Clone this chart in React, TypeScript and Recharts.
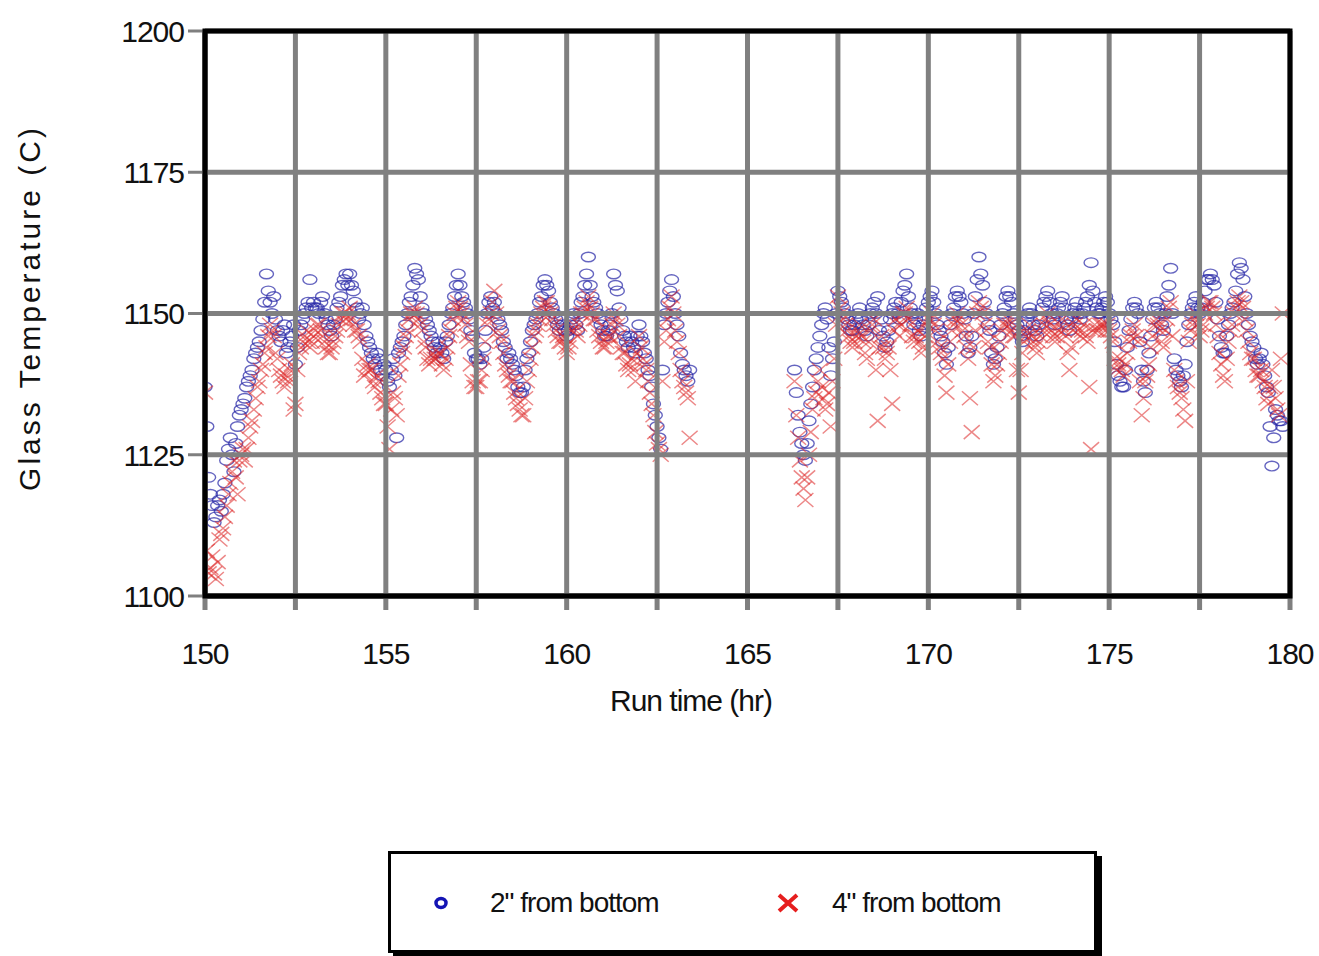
import {
  ScatterChart,
  Scatter,
  XAxis,
  YAxis,
  CartesianGrid,
  Legend,
  ReferenceArea,
} from "recharts";

// run time (hr) and glass temperature (C), first run segment
const hoursA = [
  150.0, 150.1, 150.2, 150.3, 150.4, 150.5, 150.6, 150.7, 150.8, 150.9,
  151.0, 151.1, 151.2, 151.3, 151.4, 151.5, 151.6, 151.7, 151.8, 151.9,
  152.0, 152.1, 152.2, 152.3, 152.4, 152.5, 152.6, 152.7, 152.8, 152.9,
  153.0, 153.1, 153.2, 153.3, 153.4, 153.5, 153.6, 153.7, 153.8, 153.9,
  154.0, 154.1, 154.2, 154.3, 154.4, 154.5, 154.6, 154.7, 154.8, 154.9,
  155.0, 155.1, 155.2, 155.3, 155.4, 155.5, 155.6, 155.7, 155.8, 155.9,
  156.0, 156.1, 156.2, 156.3, 156.4, 156.5, 156.6, 156.7, 156.8, 156.9,
  157.0, 157.1, 157.2, 157.3, 157.4, 157.5, 157.6, 157.7, 157.8, 157.9,
  158.0, 158.1, 158.2, 158.3, 158.4, 158.5, 158.6, 158.7, 158.8, 158.9,
  159.0, 159.1, 159.2, 159.3, 159.4, 159.5, 159.6, 159.7, 159.8, 159.9,
  160.0, 160.1, 160.2, 160.3, 160.4, 160.5, 160.6, 160.7, 160.8, 160.9,
  161.0, 161.1, 161.2, 161.3, 161.4, 161.5, 161.6, 161.7, 161.8, 161.9,
  162.0, 162.1, 162.2, 162.3, 162.4, 162.5, 162.6, 162.7, 162.8, 162.9,
  163.0, 163.1, 163.2, 163.3, 163.4,
];
const twoInA = [
  1137, 1121, 1116, 1114, 1117, 1118, 1124, 1128, 1122, 1130,
  1133, 1135, 1138, 1140, 1143, 1145, 1149, 1157, 1152, 1153,
  1147, 1145, 1148, 1144, 1146, 1141, 1147, 1149, 1151, 1156,
  1152, 1151, 1152, 1150, 1148, 1146, 1149, 1152, 1155, 1157,
  1157, 1154, 1151, 1150, 1148, 1145, 1143, 1141, 1142, 1139,
  1140, 1137, 1142, 1128, 1144, 1146, 1150, 1153, 1158, 1156,
  1151, 1149, 1147, 1145, 1143, 1144, 1142, 1146, 1150, 1153,
  1157, 1153, 1151, 1149, 1146, 1142, 1141, 1144, 1150, 1153,
  1152, 1149, 1147, 1144, 1143, 1141, 1139, 1136, 1137, 1142,
  1145, 1148, 1150, 1153, 1156, 1154, 1151, 1149, 1147, 1148,
  1146, 1148, 1150, 1147, 1152, 1155, 1160, 1153, 1151, 1149,
  1147, 1146, 1148, 1157, 1154, 1149, 1146, 1144, 1145, 1143,
  1148, 1145, 1142, 1139, 1134, 1130, 1126, 1148, 1152, 1156,
  1150, 1146, 1141, 1139, 1140,
];
const fourInA = [
  1136, 1104, 1107, 1103, 1110, 1112, 1116, 1120, 1124, 1118,
  1125, 1124, 1128, 1131, 1135, 1138, 1141, 1144, 1148, 1146,
  1142, 1139, 1137, 1138, 1141, 1134, 1143, 1145, 1147, 1144,
  1146, 1148, 1147, 1145, 1143, 1144, 1146, 1148, 1150, 1149,
  1151, 1148, 1147, 1145, 1139, 1141, 1140, 1137, 1138, 1135,
  1134, 1126, 1136, 1132, 1141, 1144, 1147, 1150, 1151, 1149,
  1147, 1144, 1141, 1143, 1142, 1143, 1140, 1144, 1147, 1150,
  1152, 1150, 1148, 1145, 1138, 1137, 1138, 1142, 1148, 1150,
  1154, 1147, 1145, 1141, 1139, 1138, 1135, 1133, 1132, 1138,
  1142, 1146, 1148, 1150, 1152, 1151, 1149, 1147, 1145, 1146,
  1143, 1145, 1148, 1146, 1150, 1151, 1153, 1150, 1149, 1146,
  1144, 1145, 1146, 1150, 1148, 1144, 1143, 1140, 1142, 1138,
  1146, 1142, 1140, 1136, 1132, 1127, 1125, 1145, 1149, 1153,
  1147, 1143, 1138, 1136, 1128,
];

// in-between readings of the first segment
const hoursA2 = [
  150.05, 150.15, 150.25, 150.35, 150.45, 150.55, 150.65, 150.75, 150.85, 150.95,
  151.05, 151.15, 151.25, 151.35, 151.45, 151.55, 151.65, 151.75, 151.85, 151.95,
  152.05, 152.15, 152.25, 152.35, 152.45, 152.55, 152.65, 152.75, 152.85, 152.95,
  153.05, 153.15, 153.25, 153.35, 153.45, 153.55, 153.65, 153.75, 153.85, 153.95,
  154.05, 154.15, 154.25, 154.35, 154.45, 154.55, 154.65, 154.75, 154.85, 154.95,
  155.05, 155.15, 155.25, 155.35, 155.45, 155.55, 155.65, 155.75, 155.85, 155.95,
  156.05, 156.15, 156.25, 156.35, 156.45, 156.55, 156.65, 156.75, 156.85, 156.95,
  157.05, 157.15, 157.25, 157.35, 157.45, 157.55, 157.65, 157.75, 157.85, 157.95,
  158.05, 158.15, 158.25, 158.35, 158.45, 158.55, 158.65, 158.75, 158.85, 158.95,
  159.05, 159.15, 159.25, 159.35, 159.45, 159.55, 159.65, 159.75, 159.85, 159.95,
  160.05, 160.15, 160.25, 160.35, 160.45, 160.55, 160.65, 160.75, 160.85, 160.95,
  161.05, 161.15, 161.25, 161.35, 161.45, 161.55, 161.65, 161.75, 161.85, 161.95,
  162.05, 162.15, 162.25, 162.35, 162.45, 162.55, 162.65, 162.75, 162.85, 162.95,
  163.05, 163.15, 163.25, 163.35,
];
const twoInA2 = [
  1130, 1118, 1113, 1116, 1115, 1120, 1126, 1125, 1127, 1132,
  1134, 1137, 1139, 1142, 1144, 1147, 1152, 1154, 1150, 1149,
  1146, 1147, 1143, 1145, 1148, 1144, 1148, 1150, 1152, 1151,
  1151, 1150, 1153, 1149, 1147, 1148, 1151, 1153, 1156, 1155,
  1155, 1152, 1149, 1151, 1146, 1144, 1142, 1143, 1140, 1141,
  1138, 1140, 1139, 1143, 1145, 1148, 1152, 1155, 1157, 1153,
  1150, 1148, 1146, 1144, 1145, 1143, 1145, 1148, 1151, 1155,
  1155, 1152, 1150, 1147, 1143, 1142, 1142, 1147, 1152, 1151,
  1150, 1148, 1145, 1142, 1142, 1140, 1137, 1136, 1140, 1143,
  1147, 1149, 1152, 1155, 1155, 1152, 1150, 1148, 1149, 1147,
  1147, 1149, 1148, 1150, 1153, 1157, 1155, 1152, 1150, 1148,
  1146, 1147, 1150, 1155, 1151, 1147, 1145, 1146, 1144, 1146,
  1146, 1143, 1140, 1137, 1132, 1128, 1140, 1150, 1154, 1153,
  1148, 1143, 1140, 1138,
];
const fourInA2 = [
  1108, 1105, 1104, 1106, 1111, 1114, 1118, 1122, 1121, 1124,
  1126, 1126, 1130, 1133, 1137, 1140, 1143, 1146, 1147, 1143,
  1140, 1138, 1139, 1140, 1133, 1140, 1144, 1146, 1145, 1145,
  1147, 1148, 1146, 1144, 1143, 1145, 1147, 1149, 1150, 1150,
  1149, 1147, 1146, 1142, 1140, 1140, 1138, 1139, 1136, 1134,
  1130, 1133, 1135, 1139, 1143, 1146, 1149, 1150, 1150, 1148,
  1145, 1142, 1142, 1142, 1143, 1141, 1142, 1146, 1149, 1151,
  1151, 1149, 1146, 1141, 1137, 1138, 1140, 1145, 1149, 1152,
  1150, 1146, 1143, 1140, 1138, 1136, 1134, 1132, 1135, 1140,
  1144, 1147, 1149, 1151, 1152, 1150, 1148, 1146, 1145, 1144,
  1144, 1147, 1147, 1148, 1150, 1152, 1151, 1149, 1147, 1145,
  1144, 1146, 1148, 1149, 1146, 1143, 1141, 1141, 1140, 1143,
  1144, 1141, 1138, 1134, 1129, 1126, 1138, 1147, 1151, 1150,
  1145, 1140, 1137, 1135,
];

// second run segment, after the gap
const hoursB = [
  166.3, 166.4, 166.5, 166.6, 166.7, 166.8, 166.9,
  167.0, 167.1, 167.2, 167.3, 167.4, 167.5, 167.6, 167.7, 167.8, 167.9,
  168.0, 168.1, 168.2, 168.3, 168.4, 168.5, 168.6, 168.7, 168.8, 168.9,
  169.0, 169.1, 169.2, 169.3, 169.4, 169.5, 169.6, 169.7, 169.8, 169.9,
  170.0, 170.1, 170.2, 170.3, 170.4, 170.5, 170.6, 170.7, 170.8, 170.9,
  171.0, 171.1, 171.2, 171.3, 171.4, 171.5, 171.6, 171.7, 171.8, 171.9,
  172.0, 172.1, 172.2, 172.3, 172.4, 172.5, 172.6, 172.7, 172.8, 172.9,
  173.0, 173.1, 173.2, 173.3, 173.4, 173.5, 173.6, 173.7, 173.8, 173.9,
  174.0, 174.1, 174.2, 174.3, 174.4, 174.5, 174.6, 174.7, 174.8, 174.9,
  175.0, 175.1, 175.2, 175.3, 175.4, 175.5, 175.6, 175.7, 175.8, 175.9,
  176.0, 176.1, 176.2, 176.3, 176.4, 176.5, 176.6, 176.7, 176.8, 176.9,
  177.0, 177.1, 177.2, 177.3, 177.4, 177.5, 177.6, 177.7, 177.8, 177.9,
  178.0, 178.1, 178.2, 178.3, 178.4, 178.5, 178.6, 178.7, 178.8, 178.9,
  179.0, 179.1, 179.2, 179.3, 179.4, 179.5, 179.6, 179.7, 179.8,
];
const twoInB = [
  1140, 1132, 1127, 1124, 1131, 1137, 1142,
  1146, 1150, 1149, 1139, 1145, 1154, 1152, 1150, 1148, 1147,
  1149, 1151, 1148, 1146, 1150, 1152, 1153, 1149, 1144, 1147,
  1150, 1152, 1149, 1154, 1157, 1151, 1148, 1150, 1146, 1149,
  1152, 1154, 1150, 1147, 1145, 1141, 1148, 1151, 1154, 1152,
  1149, 1143, 1146, 1153, 1160, 1155, 1150, 1147, 1141, 1144,
  1148, 1151, 1154, 1152, 1149, 1147, 1145, 1148, 1151, 1148,
  1146, 1149, 1152, 1154, 1150, 1148, 1151, 1153, 1149, 1147,
  1150, 1152, 1149, 1151, 1153, 1159, 1152, 1150, 1151, 1153,
  1150, 1148, 1141, 1138, 1137, 1144, 1149, 1152, 1150, 1140,
  1136, 1143, 1149, 1152, 1150, 1147, 1153, 1158, 1142, 1139,
  1137, 1141, 1148, 1151, 1153, 1150, 1152, 1156, 1157, 1155,
  1149, 1144, 1143, 1148, 1151, 1154, 1159, 1156, 1150, 1146,
  1144, 1141, 1143, 1139, 1136, 1123, 1133, 1131, 1130,
];
const fourInB = [
  1138, 1128, 1121, 1117, 1125, 1133, 1136,
  1140, 1135, 1134, 1130, 1142, 1153, 1150, 1148, 1146, 1144,
  1146, 1148, 1145, 1142, 1147, 1149, 1131, 1146, 1142, 1144,
  1134, 1149, 1146, 1150, 1151, 1148, 1145, 1147, 1143, 1146,
  1149, 1150, 1147, 1144, 1142, 1136, 1145, 1148, 1150, 1148,
  1146, 1142, 1129, 1147, 1152, 1150, 1147, 1144, 1138, 1141,
  1145, 1148, 1149, 1147, 1146, 1136, 1143, 1146, 1148, 1145,
  1143, 1146, 1148, 1150, 1147, 1145, 1147, 1149, 1146, 1140,
  1147, 1149, 1146, 1148, 1145, 1126, 1148, 1147, 1148, 1147,
  1147, 1145, 1140, 1142, 1139, 1143, 1146, 1148, 1145, 1132,
  1138, 1141, 1146, 1149, 1147, 1144, 1149, 1152, 1140, 1137,
  1135, 1131, 1145, 1148, 1150, 1146, 1148, 1151, 1152, 1150,
  1146, 1141, 1138, 1145, 1148, 1151, 1153, 1151, 1147, 1143,
  1142, 1139, 1140, 1137, 1134, 1140, 1135, 1132, 1150,
];

// in-between readings of the second segment
const hoursB2 = [
  166.35, 166.45, 166.55, 166.65, 166.75, 166.85, 166.95,
  167.05, 167.15, 167.25, 167.35, 167.45, 167.55, 167.65, 167.75, 167.85, 167.95,
  168.05, 168.15, 168.25, 168.35, 168.45, 168.55, 168.65, 168.75, 168.85, 168.95,
  169.05, 169.15, 169.25, 169.35, 169.45, 169.55, 169.65, 169.75, 169.85, 169.95,
  170.05, 170.15, 170.25, 170.35, 170.45, 170.55, 170.65, 170.75, 170.85, 170.95,
  171.05, 171.15, 171.25, 171.35, 171.45, 171.55, 171.65, 171.75, 171.85, 171.95,
  172.05, 172.15, 172.25, 172.35, 172.45, 172.55, 172.65, 172.75, 172.85, 172.95,
  173.05, 173.15, 173.25, 173.35, 173.45, 173.55, 173.65, 173.75, 173.85, 173.95,
  174.05, 174.15, 174.25, 174.35, 174.45, 174.55, 174.65, 174.75, 174.85, 174.95,
  175.05, 175.15, 175.25, 175.35, 175.45, 175.55, 175.65, 175.75, 175.85, 175.95,
  176.05, 176.15, 176.25, 176.35, 176.45, 176.55, 176.65, 176.75, 176.85, 176.95,
  177.05, 177.15, 177.25, 177.35, 177.45, 177.55, 177.65, 177.75, 177.85, 177.95,
  178.05, 178.15, 178.25, 178.35, 178.45, 178.55, 178.65, 178.75, 178.85, 178.95,
  179.05, 179.15, 179.25, 179.35, 179.45, 179.55, 179.65, 179.75,
];
const twoInB2 = [
  1136, 1129, 1125, 1127, 1134, 1140, 1144,
  1148, 1151, 1144, 1142, 1150, 1153, 1151, 1149, 1147, 1148,
  1150, 1149, 1147, 1148, 1151, 1150, 1147, 1146, 1145, 1149,
  1151, 1150, 1152, 1155, 1153, 1150, 1149, 1147, 1148, 1151,
  1153, 1152, 1148, 1146, 1143, 1144, 1150, 1153, 1153, 1150,
  1146, 1144, 1150, 1156, 1157, 1152, 1148, 1143, 1142, 1146,
  1150, 1153, 1153, 1150, 1148, 1146, 1147, 1150, 1150, 1147,
  1148, 1151, 1153, 1152, 1149, 1150, 1152, 1151, 1148, 1149,
  1151, 1150, 1150, 1152, 1155, 1154, 1151, 1150, 1152, 1152,
  1149, 1145, 1139, 1137, 1140, 1147, 1151, 1151, 1145, 1138,
  1140, 1146, 1151, 1151, 1148, 1150, 1155, 1150, 1140, 1138,
  1139, 1145, 1150, 1152, 1151, 1151, 1154, 1156, 1156, 1152,
  1146, 1143, 1146, 1150, 1152, 1157, 1158, 1153, 1148, 1145,
  1142, 1142, 1141, 1137, 1130, 1128, 1132, 1131,
];
const fourInB2 = [
  1132, 1124, 1119, 1121, 1129, 1135, 1138,
  1137, 1133, 1136, 1138, 1148, 1151, 1149, 1147, 1145, 1145,
  1147, 1146, 1143, 1145, 1148, 1140, 1144, 1144, 1143, 1140,
  1147, 1148, 1148, 1150, 1149, 1146, 1146, 1145, 1144, 1148,
  1149, 1148, 1145, 1143, 1139, 1141, 1147, 1149, 1149, 1147,
  1144, 1135, 1144, 1150, 1151, 1148, 1145, 1141, 1139, 1143,
  1147, 1148, 1148, 1146, 1140, 1140, 1145, 1147, 1146, 1144,
  1145, 1147, 1149, 1148, 1146, 1146, 1148, 1147, 1143, 1144,
  1148, 1147, 1147, 1146, 1137, 1147, 1147, 1148, 1148, 1148,
  1146, 1142, 1141, 1140, 1141, 1145, 1147, 1146, 1138, 1135,
  1139, 1144, 1148, 1148, 1145, 1147, 1151, 1146, 1138, 1136,
  1133, 1138, 1147, 1149, 1148, 1147, 1150, 1152, 1151, 1148,
  1143, 1139, 1142, 1147, 1150, 1152, 1152, 1149, 1145, 1142,
  1140, 1139, 1138, 1135, 1137, 1137, 1133, 1142,
];

const xTicks = [150, 152.5, 155, 157.5, 160, 162.5, 165, 167.5, 170, 172.5, 175, 177.5, 180];
const yTicks = [1100, 1125, 1150, 1175, 1200];
const seriesNames = ['2" from bottom', '4" from bottom'];

const FONT = '"Liberation Sans", Arial, sans-serif';

const toPoints = (hours: number[], temps: number[]) =>
  hours.map((h, i) => ({ x: h, y: temps[i] }));

const twoInData = [
  ...toPoints(hoursA, twoInA),
  ...toPoints(hoursA2, twoInA2),
  ...toPoints(hoursB, twoInB),
  ...toPoints(hoursB2, twoInB2),
];
const fourInData = [
  ...toPoints(hoursA, fourInA),
  ...toPoints(hoursA2, fourInA2),
  ...toPoints(hoursB, fourInB),
  ...toPoints(hoursB2, fourInB2),
];

const Ring = (props: any) => {
  const { cx, cy } = props;
  if (cx == null || cy == null) return <g />;
  return (
    <ellipse
      cx={cx}
      cy={cy}
      rx={7}
      ry={4.8}
      fill="none"
      stroke="#2a2aa8"
      strokeOpacity={0.72}
      strokeWidth={1.4}
    />
  );
};

const Cross = (props: any) => {
  const { cx, cy } = props;
  if (cx == null || cy == null) return <g />;
  return (
    <path
      d={`M${cx - 8},${cy - 7}L${cx + 8},${cy + 7}M${cx - 8},${cy + 7}L${cx + 8},${cy - 7}`}
      stroke="#dc2424"
      strokeOpacity={0.55}
      strokeWidth={1.5}
      fill="none"
    />
  );
};

const XTick = (props: any) => {
  const { x, payload } = props;
  if (payload.value % 5 !== 0) return <g />;
  return (
    <text x={x} y={664} textAnchor="middle" fontSize={30} fontFamily={FONT} fill="#111" letterSpacing={-1}>
      {payload.value}
    </text>
  );
};

const YTick = (props: any) => {
  const { x, y, payload } = props;
  return (
    <text x={x} y={y} dy="0.36em" textAnchor="end" fontSize={30} fontFamily={FONT} fill="#111" letterSpacing={-1}>
      {payload.value}
    </text>
  );
};

const LegendBox = () => (
  <div
    style={{
      width: 709,
      height: 102,
      boxSizing: "border-box",
      border: "3px solid #000",
      boxShadow: "5px 5px 0 #000",
      background: "#fff",
      position: "relative",
      fontFamily: FONT,
      fontSize: 28,
      letterSpacing: -1,
      color: "#111",
    }}
  >
    <svg width={20} height={20} style={{ position: "absolute", left: 40, top: 39 }}>
      <ellipse cx={10} cy={10} rx={5} ry={4.5} fill="none" stroke="#1414b4" strokeWidth={3.5} />
    </svg>
    <div style={{ position: "absolute", left: 99, top: 32, lineHeight: "34px" }}>{seriesNames[0]}</div>
    <svg width={24} height={24} style={{ position: "absolute", left: 385, top: 37 }}>
      <path d="M3,4L21,20M3,20L21,4" stroke="#e61e1e" strokeWidth={4} />
    </svg>
    <div style={{ position: "absolute", left: 441, top: 32, lineHeight: "34px" }}>{seriesNames[1]}</div>
  </div>
);

export default function App() {
  return (
    <div style={{ position: "absolute", left: 0, top: 0, background: "#fff" }}>
      <ScatterChart
        width={1315}
        height={950}
        margin={{ top: 31, right: 25, left: 105, bottom: 142 }}
      >
        <XAxis
          type="number"
          dataKey="x"
          domain={[150, 180]}
          ticks={xTicks}
          interval={0}
          allowDataOverflow
          height={110}
          tick={<XTick />}
          tickSize={14}
          tickLine={{ stroke: "#7f7f7f", strokeWidth: 5 }}
          axisLine={{ stroke: "#000", strokeWidth: 5 }}
          label={{
            content: () => (
              <text x={691} y={711} textAnchor="middle" fontSize={30} fontFamily={FONT} fill="#111" letterSpacing={-1}>
                Run time (hr)
              </text>
            ),
          }}
        />
        <YAxis
          type="number"
          dataKey="y"
          domain={[1100, 1200]}
          ticks={yTicks}
          interval={0}
          allowDataOverflow
          width={100}
          tick={<YTick />}
          tickSize={17}
          tickMargin={4}
          tickLine={{ stroke: "#7f7f7f", strokeWidth: 3 }}
          axisLine={{ stroke: "#000", strokeWidth: 5 }}
          label={{
            content: () => (
              <text
                x={40}
                y={308}
                transform="rotate(-90, 40, 308)"
                textAnchor="middle"
                fontSize={30}
                fontFamily={FONT}
                fill="#111"
                letterSpacing={3}
              >
                Glass Temperature (C)
              </text>
            ),
          }}
        />
        <Scatter name={seriesNames[0]} data={twoInData} shape={<Ring />} isAnimationActive={false} />
        <Scatter name={seriesNames[1]} data={fourInData} shape={<Cross />} isAnimationActive={false} />
        <CartesianGrid
          stroke="#808080"
          strokeWidth={5}
          verticalValues={xTicks}
          horizontalValues={yTicks}
          zIndex={650}
        />
        <ReferenceArea
          x1={150}
          x2={180}
          y1={1100}
          y2={1200}
          fill="none"
          stroke="#000"
          strokeWidth={5}
          zIndex={700}
        />
        <Legend
          verticalAlign="bottom"
          wrapperStyle={{ left: 388, top: 851, bottom: "auto", width: "auto" }}
          content={() => <LegendBox />}
        />
      </ScatterChart>
    </div>
  );
}
